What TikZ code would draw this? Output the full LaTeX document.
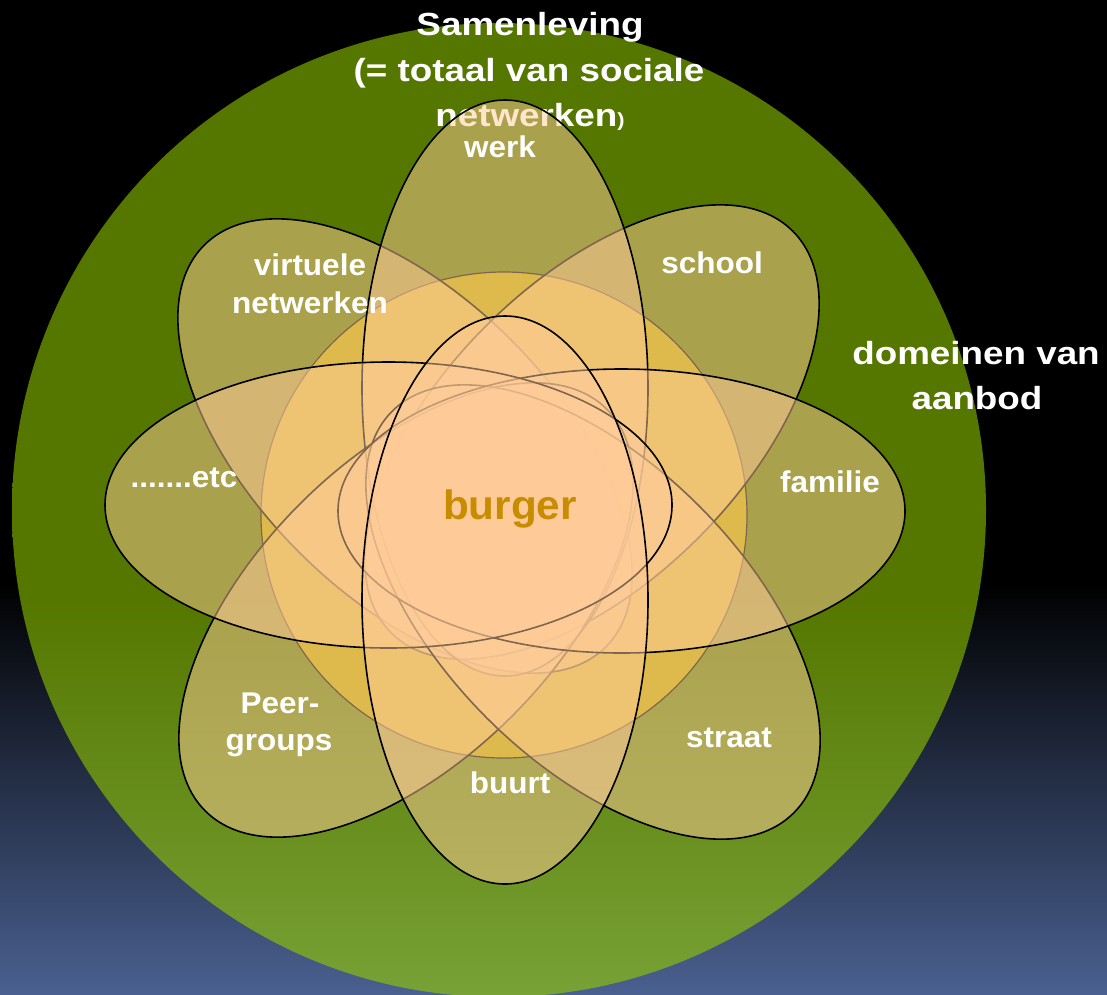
\documentclass[tikz,border=0pt]{standalone}
\usepackage{fontspec}
\setmainfont{Liberation Sans}
\newfontfamily\titlefont[FakeStretch=1.15]{Liberation Sans}
\newfontfamily\labelfont[FakeStretch=1.05]{Liberation Sans}
\newfontfamily\burgerfont[FakeStretch=1.03]{Liberation Sans}
\definecolor{bgbot}{HTML}{4A6090}
\definecolor{gtop}{HTML}{557700}
\definecolor{gbot}{HTML}{78A236}
\definecolor{peach}{HTML}{FFCC99}
\definecolor{gold}{HTML}{BEA800}
\definecolor{burgerc}{HTML}{C88C00}
\pgfdeclareverticalshading{bgshade}{100bp}{color(0bp)=(bgbot); color(25bp)=(bgbot); color(45.7bp)=(black); color(100bp)=(black)}
\pgfdeclareverticalshading{greenshade}{100bp}{color(0bp)=(gbot); color(25bp)=(gbot); color(45.4bp)=(gtop); color(100bp)=(gtop)}
\begin{document}
\begin{tikzpicture}[x=1pt,y=-1pt,
  petal/.style={fill=peach, fill opacity=0.5, draw=black, line width=1.6pt},
  ttl/.style={text=white, font=\titlefont\bfseries\fontsize{32}{40}\selectfont, anchor=base, inner sep=0pt},
  lbl/.style={text=white, font=\labelfont\bfseries\fontsize{30}{36}\selectfont, anchor=base, inner sep=0pt}]
\useasboundingbox (0,0) rectangle (1107,994);
\clip (0,0) rectangle (1107,994);
% background and society circle
\shade[shading=bgshade] (0,0) rectangle (1107,994);
\shade[shading=greenshade] (499,510) circle[radius=487];
% title (below the petals)
\node[ttl] (t1) at (530,35) {Samenleving};
\node[ttl] (t2) at (529,81) {(= totaal van sociale};
\node[ttl] (t3) at (530,126) {netwerken{\fontsize{19}{19}\selectfont)}};
% burger circle
\draw[fill=gold, draw=black, line width=1.2pt] (504,515) circle[radius=243];
% petals
\draw[petal, shift={(405,446)}, rotate=-45] (0,0) ellipse[x radius=284pt, y radius=150pt]; % virtuele
\draw[petal, shift={(592,432)}, rotate=45] (0,0) ellipse[x radius=284pt, y radius=150pt];  % school
\draw[petal] (505,388) ellipse[x radius=143pt, y radius=288pt];                              % werk
\draw[petal, shift={(406,610)}, rotate=45] (0,0) ellipse[x radius=284pt, y radius=150pt];  % peer
\draw[petal, shift={(593,612)}, rotate=-45] (0,0) ellipse[x radius=284pt, y radius=150pt]; % straat
\draw[petal] (621.5,511) ellipse[x radius=283.5pt, y radius=142pt];                          % familie
\draw[petal] (388.5,505) ellipse[x radius=283.5pt, y radius=143pt];                          % etc
\draw[petal] (505,600) ellipse[x radius=143pt, y radius=284pt];                              % buurt
% labels
\node[lbl] (werk) at (500,157) {werk};
\node[lbl] (virt1) at (310,275) {virtuele};
\node[lbl] (virt2) at (310,313) {netwerken};
\node[lbl] (school) at (712,273) {school};
\node[ttl] (dom1) at (976,364) {domeinen van};
\node[ttl] (dom2) at (977,409) {aanbod};
\node[lbl] (etc) at (184,487) {.......etc};
\node[lbl] (fam) at (830,492) {familie};
\node[text=burgerc, font=\burgerfont\bfseries\fontsize{41}{48}\selectfont, anchor=base, inner sep=0pt] (burger) at (510,519) {burger};
\node[lbl] (peer1) at (280,713) {Peer-};
\node[lbl] (peer2) at (279,750) {groups};
\node[lbl] (straat) at (729,747) {straat};
\node[lbl] (buurt) at (510,793) {buurt};
\end{tikzpicture}
\end{document}
